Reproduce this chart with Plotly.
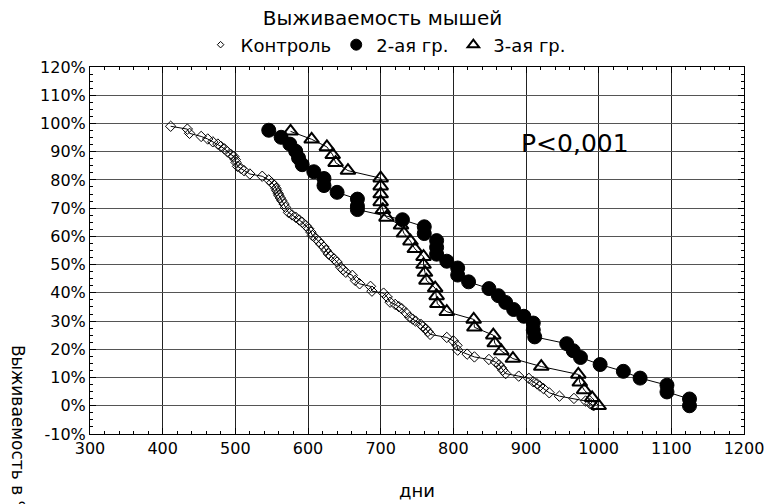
import plotly.graph_objects as go

# ---- data ----
control_days = [411, 434, 437, 453, 462, 469, 476, 480, 485, 489, 494, 498, 500, 501, 503, 508, 512, 520,
                537, 546, 550, 554, 556, 557, 559, 560, 562, 564, 567, 569, 573, 578, 583, 588, 592, 597,
                601, 604, 606, 611, 615, 618, 622, 625, 628, 631, 636, 640, 645, 648, 652, 661, 665, 671,
                686, 688, 704, 709, 713, 720, 725, 729, 735, 740, 744, 748, 755, 758, 762, 765, 768, 791,
                800, 805, 806, 819, 829, 849, 858, 863, 866, 868, 872, 890, 904, 910, 915, 919, 924, 932,
                946, 966, 982, 988, 993]
control_pct = [99, 98, 96.5, 95.4, 94.5, 93.5, 92.7, 91.9, 91, 90, 89, 88.3, 87.2, 86.2, 84.8, 84, 83.3, 82.1,
               81.3, 80, 79, 78, 77, 76.2, 75.2, 74.5, 73.6, 72.7, 71.5, 70.3, 68.5, 67.6, 66.8, 65.8, 65, 63.8,
               62.7, 61.5, 60.3, 59.2, 58.2, 57.2, 56.2, 55, 53.8, 53.2, 52, 50.9, 49.1, 48.2, 47.3, 46.2, 44.4, 43.2,
               42.3, 40.6, 39.9, 38.5, 36.7, 35.9, 35.1, 34.4, 32.9, 31.4, 30.7, 30, 28.9, 28, 27.3, 26.3, 25.3, 24.2,
               23, 21.4, 19.7, 18.3, 17.3, 16.4, 15.5, 14.5, 13.5, 12.6, 11.4, 10.5, 9.7, 8.5, 7.8, 7, 6.1, 4.6,
               3.4, 2.6, 1.7, 0.8, 0]

group2_days = [546, 563, 575, 583, 587, 592, 608, 622, 622, 640, 668, 668, 668, 730, 760, 760, 777, 777,
               777, 791, 806, 806, 821, 849, 862, 872, 883, 897, 910, 910, 912, 956, 965, 975, 1002, 1034,
               1057, 1094, 1094, 1125, 1125]
group2_pct = [97.6, 95.1, 92.7, 90.2, 87.8, 85.4, 82.9, 80.5, 78, 75.6, 73.2, 70.7, 69.5, 65.9, 63.4, 61, 58.5, 56.1,
              53.7, 51.2, 48.8, 46.3, 43.9, 41.5, 39, 36.6, 34.1, 31.7, 29.3, 26.8, 24.4, 22, 19.5, 17.1, 14.6, 12.2,
              9.8, 7.3, 4.9, 2.4, 0]

group3_days = [576, 605, 626, 634, 638, 655, 700, 700, 700, 700, 703, 708, 728, 732, 741, 747, 759, 759,
               761, 763, 775, 777, 778, 791, 828, 829, 855, 857, 866, 882, 921, 972, 974, 980, 991, 1000]
group3_pct = [97.2, 94.4, 91.7, 88.9, 86.1, 83.3, 80.6, 77.8, 75, 72.2, 69.4, 66.7, 63.9, 61.1, 58.3, 55.6, 52.8, 50,
              47.2, 44.4, 41.7, 38.9, 36.1, 33.3, 30.6, 27.8, 25, 22.2, 19.4, 16.7, 13.9, 11.1, 8.3, 5.6, 2.8, 0]

series_names = ["Контроль", "2-ая гр.", "3-ая гр."]
x_ticks = [300, 400, 500, 600, 700, 800, 900, 1000, 1100, 1200]
y_ticks = [-10, 0, 10, 20, 30, 40, 50, 60, 70, 80, 90, 100, 110, 120]
y_tick_labels = ["-10%", "0%", "10%", "20%", "30%", "40%", "50%", "60%", "70%", "80%", "90%", "100%", "110%", "120%"]

FONT = "DejaVu Sans"

fig = go.Figure()

styles = [
    dict(symbol="diamond-open", size=8, line=dict(width=1, color="black"), color="black"),
    dict(symbol="circle", size=14, line=dict(width=1, color="black"), color="black"),
    dict(symbol="triangle-up-open", size=13, line=dict(width=2, color="black"), color="black"),
]
datasets = [(control_days, control_pct), (group2_days, group2_pct), (group3_days, group3_pct)]

for (xs, ys), st, name in zip(datasets, styles, series_names):
    fig.add_trace(go.Scatter(x=xs, y=ys, mode="lines+markers", name=name, showlegend=False,
                             line=dict(color="black", width=1),
                             marker=dict(symbol=st["symbol"], size=st["size"], color=st["color"], line=st["line"])))
# legend-only entries (markers without line)
for st, name in zip(styles, series_names):
    fig.add_trace(go.Scatter(x=[None], y=[None], mode="markers", name=name,
                             marker=dict(symbol=st["symbol"], size=st["size"] - 3, color=st["color"], line=st["line"])))

fig.add_annotation(x=968, y=92.8, xref="x", yref="y", text="P<0,001", showarrow=False,
                   font=dict(family=FONT, size=25, color="black"))

fig.add_annotation(x=-0.110, y=0.248, xref="paper", yref="paper", text="Выживаемость в %", textangle=90,
                   showarrow=False, xanchor="center", yanchor="top",
                   font=dict(family=FONT, size=17, color="black"))

fig.update_layout(
    width=765, height=504,
    margin=dict(l=90, r=21, t=67, b=70, autoexpand=False),
    paper_bgcolor="white", plot_bgcolor="white",
    font=dict(family=FONT, size=16, color="black"),
    title=dict(text="Выживаемость мышей", x=0.5, xref="container", xanchor="center", y=0.965, yanchor="middle",
               font=dict(family=FONT, size=20, color="black")),
    legend=dict(orientation="h", x=0.452, xanchor="center", y=1.06, yanchor="middle",
                font=dict(family=FONT, size=18, color="black"), bgcolor="rgba(0,0,0,0)"),
)
fig.update_xaxes(range=[300, 1200], tickvals=x_ticks, showgrid=True, gridcolor="#222", gridwidth=1,
                 showline=True, linecolor="black", linewidth=1, mirror="ticks", automargin=False,
                 ticks="inside", ticklen=6, tickcolor="black", zeroline=False,
                 minor=dict(ticks="inside", ticklen=3, dtick=20, tickcolor="black", showgrid=False),
                 title=dict(text="дни", standoff=27, font=dict(family=FONT, size=18)),
                 tickfont=dict(family=FONT, size=16))
fig.update_yaxes(range=[-10, 120], tickvals=y_ticks, ticktext=y_tick_labels, showgrid=True,
                 gridcolor="#555", gridwidth=1, automargin=False,
                 showline=True, linecolor="black", linewidth=1, mirror="ticks",
                 ticks="inside", ticklen=6, tickcolor="black", zeroline=False,
                 minor=dict(ticks="inside", ticklen=3, dtick=2.5, tickcolor="black", showgrid=False),
                 tickfont=dict(family=FONT, size=16))

fig.write_html("out.html")
